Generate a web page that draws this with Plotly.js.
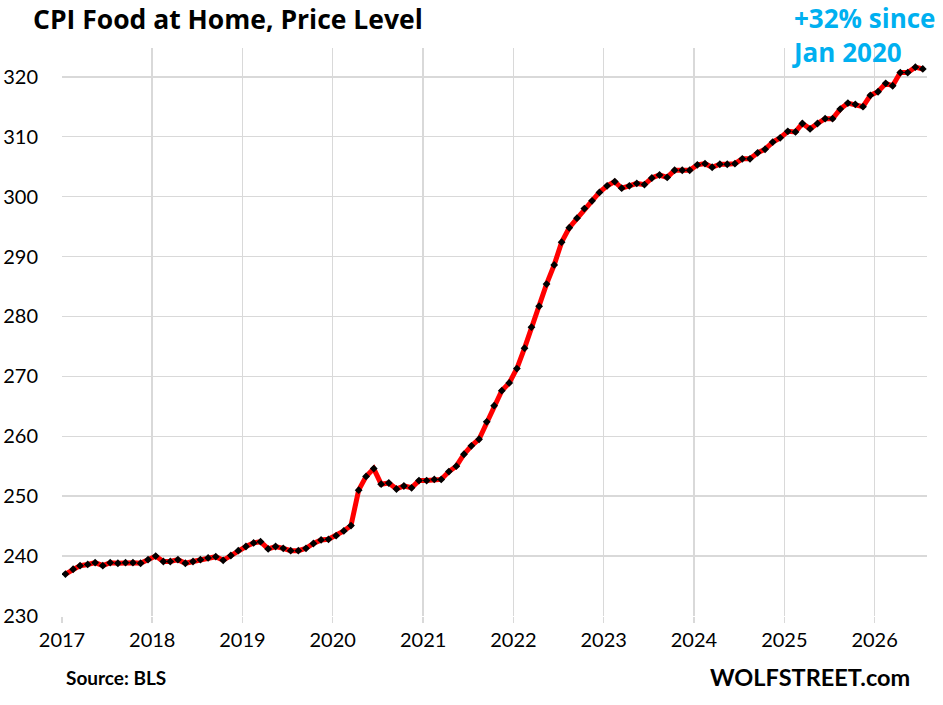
<!DOCTYPE html>
<html>
<head>
<meta charset="utf-8">
<script src="https://cdn.plot.ly/plotly-3.0.1.min.js"></script>
<style>
html,body{margin:0;padding:0;background:#fff;}
#chart{width:943px;height:705px;}
</style>
</head>
<body>
<div id="chart"></div>
<script>
// CPI Food at Home, monthly values (Jan..Dec) by year
const years = [2017, 2018, 2019, 2020, 2021, 2022, 2023, 2024, 2025, 2026];
const cpi2017 = [237.0, 237.8, 238.4, 238.6, 238.9, 238.4, 238.9, 238.8, 238.9, 238.9, 238.8, 239.4];
const cpi2018 = [240.0, 239.1, 239.1, 239.4, 238.8, 239.1, 239.4, 239.7, 239.9, 239.3, 240.1, 240.9];
const cpi2019 = [241.6, 242.2, 242.4, 241.2, 241.6, 241.3, 240.9, 240.9, 241.3, 242.1, 242.7, 242.8];
const cpi2020 = [243.4, 244.2, 245.1, 251.0, 253.3, 254.6, 252.0, 252.2, 251.2, 251.7, 251.4, 252.6];
const cpi2021 = [252.6, 252.8, 252.8, 254.1, 255.0, 257.0, 258.4, 259.5, 262.4, 265.1, 267.6, 268.9];
const cpi2022 = [271.3, 274.7, 278.2, 281.7, 285.4, 288.6, 292.4, 294.8, 296.4, 298.0, 299.3, 300.7];
const cpi2023 = [301.8, 302.5, 301.4, 301.8, 302.2, 302.0, 303.1, 303.6, 303.2, 304.4, 304.4, 304.4];
const cpi2024 = [305.3, 305.5, 304.9, 305.4, 305.4, 305.5, 306.3, 306.3, 307.3, 307.9, 309.1, 309.8];
const cpi2025 = [310.9, 310.8, 312.2, 311.3, 312.2, 313.0, 313.0, 314.6, 315.6, 315.4, 315.0, 316.9];
const cpi2026 = [317.5, 318.9, 318.5, 320.7, 320.7, 321.6, 321.3];
const yearTickLabels = ['2017','2018','2019','2020','2021','2022','2023','2024','2025','2026'];
const yTickVals = [230, 240, 250, 260, 270, 280, 290, 300, 310, 320];

const byYear = [cpi2017, cpi2018, cpi2019, cpi2020, cpi2021, cpi2022, cpi2023, cpi2024, cpi2025, cpi2026];
const xs = [], ys = [];
byYear.forEach((arr, i) => {
  arr.forEach((v, m) => {
    xs.push(years[i] + '-' + String(m + 1).padStart(2, '0') + '-15');
    ys.push(v);
  });
});
const yearTickVals = yearTickLabels.map(y => y + '-01-01');

const FONT = 'Lato, "Open Sans", sans-serif';
const BOLD = '"Open Sans", Lato, sans-serif';
const grid = '#d9d9d9';

const trace = {
  x: xs, y: ys, type: 'scatter', mode: 'lines+markers',
  line: {color: '#ff0000', width: 5},
  marker: {color: '#000000', symbol: 'diamond', size: 6},
  hoverinfo: 'x+y'
};

const layout = {
  width: 943, height: 705,
  paper_bgcolor: '#ffffff', plot_bgcolor: '#ffffff',
  margin: {l: 62, r: 16, t: 48, b: 89},
  showlegend: false,
  font: {family: FONT, color: '#000000'},
  title: {
    text: '<b>CPI Food at Home, Price Level</b>',
    font: {family: BOLD, size: 26.5, color: '#000000'},
    x: 33 / 943, xanchor: 'left', xref: 'container',
    y: 1 - 20 / 705, yanchor: 'middle', yref: 'container'
  },
  xaxis: {
    type: 'date',
    range: ['2017-01-01', '2026-08-01'],
    tickvals: yearTickVals, ticktext: yearTickLabels,
    showgrid: true, gridcolor: grid, gridwidth: 1.5,
    ticks: 'outside', ticklen: 6, tickcolor: grid, tickwidth: 1.5,
    showline: false, zeroline: false,
    tickfont: {family: FONT, size: 20, color: '#000000'}
  },
  yaxis: {
    range: [230, 324.8],
    tickvals: yTickVals, ticktext: yTickVals.map(String),
    showgrid: true, gridcolor: grid, gridwidth: 1.5,
    showline: false, zeroline: false,
    ticks: 'outside', ticklen: 19, tickcolor: 'rgba(0,0,0,0)',
    tickfont: {family: FONT, size: 20, color: '#000000'}
  },
  annotations: [
    {
      text: '<b>+32% since<br>Jan 2020</b>',
      xref: 'paper', yref: 'paper',
      x: (937 - 62) / 865, y: (616 - 35) / 568,
      xanchor: 'right', yanchor: 'middle', align: 'left',
      showarrow: false,
      font: {family: BOLD, size: 26, color: '#00b0f0'}
    },
    {
      text: '<b>Source: BLS</b>',
      xref: 'paper', yref: 'paper',
      x: (64 - 62) / 865, y: (616 - 677) / 568,
      xanchor: 'left', yanchor: 'middle', showarrow: false,
      font: {family: FONT, size: 19, color: '#000000'}
    },
    {
      text: '<b>WOLFSTREET.com</b>',
      xref: 'paper', yref: 'paper',
      x: (912 - 62) / 865, y: (616 - 677) / 568,
      xanchor: 'right', yanchor: 'middle', showarrow: false,
      font: {family: FONT, size: 23.5, color: '#000000'}
    }
  ]
};

Plotly.newPlot('chart', [trace], layout, {displayModeBar: false, staticPlot: true});
</script>
</body>
</html>
